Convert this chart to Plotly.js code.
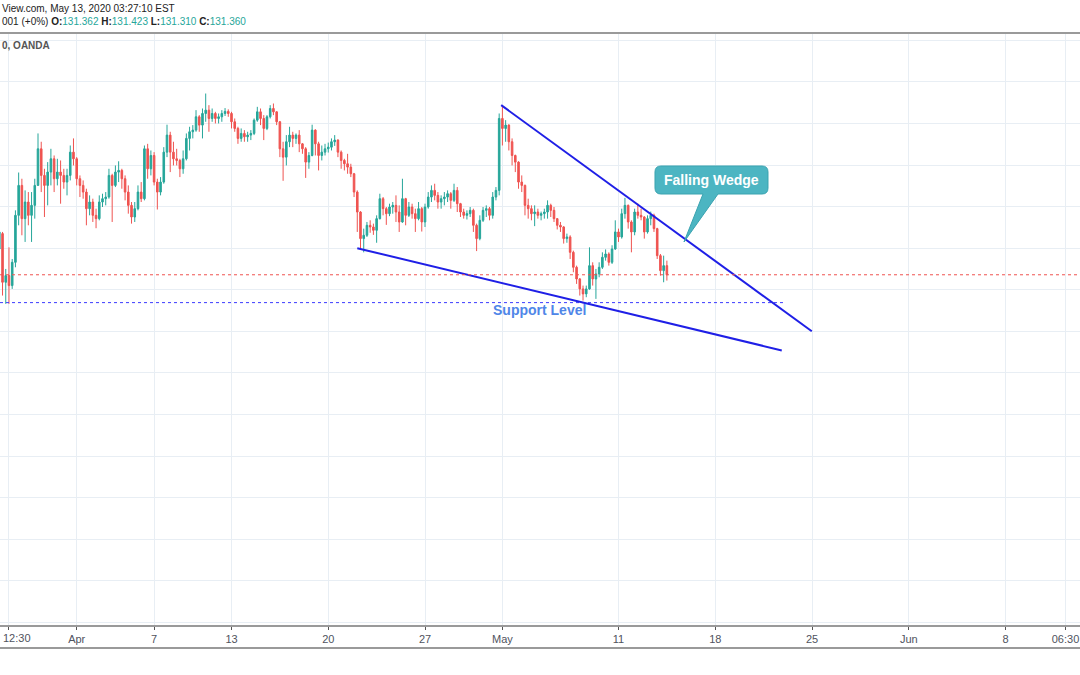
<!DOCTYPE html>
<html><head><meta charset="utf-8">
<script src="https://cdn.plot.ly/plotly-3.0.1.min.js"></script>
<style>html,body{margin:0;padding:0;background:#fff;}#chart{width:1080px;height:675px;}</style>
</head><body><div id="chart"></div>
<script>
// ---- data (GBP/JPY 4h candles) ----
const firstBar = '2020-03-26T00:00:00Z';
const openP = [
131.98,132.35,131.18,131.34,131.10,131.66,132.79,133.51,132.71,133.11,
132.79,133.03,133.51,134.39,133.75,133.51,133.83,134.15,133.67,133.83,
133.75,133.59,133.75,134.31,134.15,133.67,133.51,133.35,132.95,133.11,
132.79,132.71,133.11,133.19,133.23,133.75,133.51,133.83,133.87,133.67,
133.35,133.03,132.75,132.95,133.35,133.19,134.39,133.91,134.23,133.59,
133.35,133.59,134.31,134.72,134.31,134.15,134.11,133.91,134.15,134.64,
134.80,134.84,135.16,134.96,135.24,135.32,135.12,135.24,135.12,135.16,
135.24,135.29,135.24,135.04,134.88,134.64,134.76,134.68,134.72,134.76,
135.08,135.28,135.12,134.88,135.16,135.36,135.28,135.04,134.39,134.19,
134.56,134.72,134.64,134.72,134.51,134.39,134.07,134.23,134.84,134.51,
134.23,134.31,134.39,134.43,134.56,134.60,134.31,134.11,134.03,133.95,
133.79,133.35,132.87,132.23,132.31,132.55,132.51,132.43,132.71,133.19,
132.95,132.83,132.99,133.03,132.87,132.63,133.19,132.79,132.99,132.83,
132.71,132.95,132.63,132.99,133.23,133.39,133.27,133.11,133.19,133.23,
133.31,133.15,133.39,133.07,132.87,132.79,132.83,132.91,132.55,132.23,
132.67,132.91,132.95,132.79,133.23,133.39,135.12,134.88,134.96,134.56,
134.23,134.07,133.59,133.51,133.03,132.95,132.83,132.87,132.79,132.83,
132.87,133.03,132.91,132.71,132.55,132.51,132.23,132.27,131.90,131.54,
131.26,131.02,130.90,131.02,131.58,131.26,131.38,131.54,131.78,131.86,
131.66,131.98,132.39,132.27,132.83,133.03,132.63,132.39,132.87,132.79,
132.75,132.39,132.71,132.79,132.47,131.82,131.46,131.58];
const highP = [
132.51,132.39,131.50,132.02,131.74,132.91,133.82,133.67,133.39,133.35,
133.35,133.67,134.76,134.56,133.91,134.07,134.39,134.23,134.15,134.11,
133.91,133.91,134.47,134.64,134.19,133.75,133.63,133.43,133.27,133.19,
132.95,133.27,133.31,133.35,133.91,133.79,133.99,134.09,133.91,133.75,
133.51,133.11,133.11,133.51,133.59,134.47,134.51,134.35,134.31,133.67,
133.71,134.43,134.97,134.80,134.56,134.39,134.15,134.35,134.76,134.92,
134.96,135.32,135.20,135.36,135.72,135.44,135.36,135.28,135.24,135.32,
135.37,135.34,135.28,135.12,134.92,134.88,134.84,134.80,134.84,135.12,
135.40,135.36,135.20,135.20,135.44,135.48,135.29,135.06,134.56,134.72,
134.92,134.80,134.76,134.84,134.53,134.43,134.31,134.97,134.86,134.56,
134.47,134.51,134.54,134.64,134.72,134.62,134.35,134.15,134.27,134.03,
133.81,133.39,132.89,132.47,132.63,132.67,132.59,132.79,133.31,133.23,
132.99,133.07,133.11,133.27,133.03,133.67,133.21,133.11,133.07,132.95,
133.11,132.99,133.07,133.35,133.51,133.55,133.35,133.27,133.35,133.39,
133.35,133.55,133.47,133.09,132.95,132.91,132.99,132.95,132.59,132.79,
132.99,133.03,132.99,133.35,133.47,135.24,135.44,135.08,134.98,134.64,
134.25,134.09,133.75,133.53,133.19,133.03,133.03,132.95,132.88,132.95,
133.15,133.07,132.99,132.72,132.63,132.53,132.35,132.31,131.94,131.58,
131.28,131.10,131.10,132.02,131.66,131.50,131.66,131.90,131.97,131.90,
132.07,132.67,132.47,132.95,133.21,133.05,132.67,132.95,133.07,132.95,
132.77,132.79,132.88,132.83,132.49,131.86,131.82,131.70];
const lowP = [
131.90,130.86,130.66,130.66,131.02,131.54,132.55,132.31,132.15,132.55,
132.15,132.71,133.51,133.35,132.75,133.03,133.51,133.35,133.51,133.07,
133.43,133.27,133.63,133.99,133.51,133.23,133.19,132.55,132.79,132.63,
132.48,132.67,132.99,133.03,133.19,132.63,133.47,133.59,133.43,133.15,
132.83,132.59,132.63,132.91,133.11,133.15,133.67,133.75,133.51,132.93,
133.27,133.55,134.19,133.83,133.99,133.99,133.71,133.79,134.11,134.35,
134.64,134.80,134.80,134.64,135.04,134.80,135.04,135.00,135.00,135.04,
135.18,135.16,134.88,134.80,134.51,134.56,134.56,134.56,134.60,134.72,
135.04,134.96,134.60,134.84,135.12,135.20,134.96,134.19,133.62,133.99,
134.43,134.43,134.51,134.31,134.27,133.69,133.91,134.21,134.23,133.87,
134.11,134.23,134.30,134.35,134.46,134.19,133.91,133.87,133.79,133.71,
133.23,132.39,131.98,131.90,132.27,132.37,132.32,132.13,132.69,132.79,
132.56,132.77,132.83,132.63,132.39,132.61,132.55,132.75,132.71,132.39,
132.67,132.40,132.51,132.95,133.11,133.15,132.95,132.95,133.03,133.11,
132.95,133.11,132.87,132.75,132.71,132.69,132.75,132.39,131.93,132.19,
132.63,132.75,132.67,132.71,133.15,133.27,134.47,134.56,134.35,133.99,
133.83,133.43,133.35,132.79,132.71,132.67,132.53,132.71,132.67,132.71,
132.71,132.75,132.63,132.45,132.39,132.11,132.13,131.74,131.42,131.14,
130.86,130.74,130.82,131.00,131.10,130.78,131.30,131.50,131.70,131.58,
131.62,131.96,132.15,132.23,132.71,132.47,131.90,132.31,132.71,132.67,
132.23,132.35,132.55,132.39,131.74,131.34,131.18,131.22];
const closeP = [
132.39,131.18,131.34,131.10,131.66,132.79,133.51,132.71,133.11,132.79,
133.03,133.51,134.39,133.75,133.51,133.83,134.15,133.67,133.83,133.75,
133.59,133.75,134.31,134.15,133.67,133.51,133.35,132.95,133.11,132.79,
132.71,133.11,133.19,133.23,133.75,133.51,133.83,133.87,133.67,133.35,
133.03,132.75,132.95,133.35,133.19,134.39,133.91,134.23,133.59,133.35,
133.59,134.31,134.72,134.31,134.15,134.11,133.91,134.15,134.64,134.80,
134.84,135.16,134.96,135.24,135.32,135.12,135.24,135.12,135.16,135.24,
135.29,135.24,135.04,134.88,134.64,134.76,134.68,134.72,134.76,135.08,
135.28,135.12,134.88,135.16,135.36,135.28,135.04,134.39,134.19,134.56,
134.72,134.64,134.72,134.51,134.39,134.07,134.23,134.84,134.51,134.23,
134.31,134.39,134.43,134.56,134.60,134.31,134.11,134.03,133.95,133.79,
133.35,132.87,132.23,132.31,132.55,132.51,132.43,132.71,133.19,132.95,
132.83,132.99,133.03,132.87,132.63,133.19,132.79,132.99,132.83,132.71,
132.95,132.63,132.99,133.23,133.39,133.27,133.11,133.19,133.23,133.31,
133.15,133.39,133.07,132.87,132.79,132.83,132.91,132.55,132.23,132.67,
132.91,132.95,132.79,133.23,133.39,135.12,134.88,134.96,134.56,134.23,
134.07,133.59,133.51,133.03,132.95,132.83,132.87,132.79,132.83,132.87,
133.03,132.91,132.71,132.55,132.51,132.23,132.27,131.90,131.54,131.26,
131.02,130.90,131.02,131.58,131.26,131.38,131.54,131.78,131.86,131.66,
131.98,132.39,132.27,132.83,133.03,132.63,132.39,132.87,132.79,132.75,
132.39,132.71,132.79,132.47,131.82,131.46,131.58,131.36];

const tickDates  = ['2020-04-01','2020-04-07','2020-04-13','2020-04-20','2020-04-27','2020-05-01','2020-05-11','2020-05-18','2020-05-25','2020-06-01','2020-06-08','2020-06-11 02:24'];
const tickLabels = ['Apr','7','13','20','27','May','11','18','25','Jun','8','06:30'];
const edgeTickDate = ['2020-03-26 11:45'];
const edgeTickLabel = ['12:30'];

const upperWedgeX = ['2020-04-30 22:30','2020-05-22 23:45'];
const upperWedgeY = [135.44, 130.00];
const lowerWedgeX = ['2020-04-21 12:00','2020-05-21 10:30'];
const lowerWedgeY = [132.00, 129.54];
const supportX = ['2020-03-26 00:52','2020-05-21 12:00'];
const supportY = [130.69, 130.69];
const lastPrice = [131.36];

// ---- bar times: consecutive 4h bars, weekends skipped ----
function barTimes(n){
  const out=[]; let t=Date.parse(firstBar);
  while(out.length<n){
    const d=new Date(t), wd=d.getUTCDay();
    if(wd!==0 && wd!==6) out.push(d.toISOString().slice(0,16).replace('T',' '));
    t+=4*3600*1000;
  }
  return out;
}
const times = barTimes(closeP.length);

// ---- layout geometry ----
const W=1080, plotTop=33, plotBot=625, plotH=plotBot-plotTop;
const px = v => v/W;
const py = v => (plotBot - v)/plotH;

function bubblePath(x1,y1,x2,y2,r,baseA,baseB,tipX,tipY){
  const rx=r/W, ry=r/plotH;
  const X1=px(x1), X2=px(x2), YT=py(y1), YB=py(y2);
  const f=n=>n.toFixed(5);
  return 'M'+f(X1+rx)+','+f(YT)+
    ' L'+f(X2-rx)+','+f(YT)+
    ' Q'+f(X2)+','+f(YT)+' '+f(X2)+','+f(YT-ry)+
    ' L'+f(X2)+','+f(YB+ry)+
    ' Q'+f(X2)+','+f(YB)+' '+f(X2-rx)+','+f(YB)+
    ' L'+f(px(baseA))+','+f(YB)+
    ' L'+f(px(tipX))+','+f(py(tipY))+
    ' L'+f(px(baseB))+','+f(YB)+
    ' L'+f(X1+rx)+','+f(YB)+
    ' Q'+f(X1)+','+f(YB)+' '+f(X1)+','+f(YB+ry)+
    ' L'+f(X1)+','+f(YT-ry)+
    ' Q'+f(X1)+','+f(YT)+' '+f(X1+rx)+','+f(YT)+' Z';
}

const traces = [
  {type:'candlestick', x:times, open:openP, high:highP, low:lowP, close:closeP,
   increasing:{line:{color:'#26a69a',width:1}, fillcolor:'#26a69a'},
   decreasing:{line:{color:'#ef5350',width:1}, fillcolor:'#ef5350'},
   whiskerwidth:0, hoverinfo:'skip', showlegend:false},
  {type:'scatter', mode:'lines', x:supportX, y:supportY,
   line:{color:'#3b3bff', width:1, dash:'dot'}, hoverinfo:'skip', showlegend:false},
  {type:'scatter', mode:'lines', x:upperWedgeX, y:upperWedgeY,
   line:{color:'#1f1fe6', width:2}, hoverinfo:'skip', showlegend:false},
  {type:'scatter', mode:'lines', x:lowerWedgeX, y:lowerWedgeY,
   line:{color:'#1f1fe6', width:2}, hoverinfo:'skip', showlegend:false}
];

const grid='#e8eef4', frame='#9a9a9a';
const layout = {
  width:1080, height:675,
  margin:{l:0, r:0, t:plotTop, b:675-plotBot},
  paper_bgcolor:'#ffffff', plot_bgcolor:'#ffffff',
  font:{family:'Liberation Sans, Arial, sans-serif', size:11, color:'#50535e'},
  showlegend:false,
  xaxis:{
    type:'date', range:['2020-03-26 00:52','2020-06-11 20:24'],
    rangebreaks:[{bounds:['sat','mon']}],
    rangeslider:{visible:false},
    tickmode:'array', tickvals:tickDates.concat(edgeTickDate), ticktext:tickLabels.concat(['']),
    showgrid:true, gridcolor:grid, gridwidth:1,
    showline:true, linecolor:frame, linewidth:2,
    ticks:'outside', ticklen:3, tickcolor:'#555', tickwidth:1,
    tickfont:{size:11, color:'#50535e'}, zeroline:false, fixedrange:true
  },
  yaxis:{
    range:[122.935,137.176], tickmode:'linear', tick0:0, dtick:1,
    showticklabels:false, ticks:'', showgrid:true, gridcolor:grid, gridwidth:1,
    zeroline:false, showline:false, fixedrange:true
  },
  shapes:[
    {type:'line', xref:'paper', yref:'paper', x0:0, x1:1, y0:1, y1:1, line:{color:frame, width:2}},
    {type:'line', xref:'paper', yref:'paper', x0:0, x1:1, y0:py(648), y1:py(648), line:{color:frame, width:2}},
    {type:'line', xref:'paper', yref:'y', x0:0, x1:1, y0:lastPrice[0], y1:lastPrice[0],
     line:{color:'#ef5350', width:1, dash:'dot'}},
    {type:'path', xref:'paper', yref:'paper', layer:'above',
     path:bubblePath(655,166,768,194,6,718,703,684,242),
     fillcolor:'#4cb5c2', line:{color:'#3aa3b0', width:1}}
  ],
  annotations:[
    {xref:'paper', yref:'paper', x:0, y:py(9), xanchor:'left', yanchor:'middle', showarrow:false,
     text:'View.com, May 13, 2020 03:27:10 EST', font:{size:10, color:'#222'}},
    {xref:'paper', yref:'paper', x:0, y:py(22), xanchor:'left', yanchor:'middle', showarrow:false,
     text:'001 (+0%) <b>O:</b><span style="color:#26a69a">131.362</span> <b>H:</b><span style="color:#26a69a">131.423</span> <b>L:</b><span style="color:#26a69a">131.310</span> <b>C:</b><span style="color:#26a69a">131.360</span>',
     font:{size:10, color:'#222'}},
    {xref:'paper', yref:'paper', x:0, y:py(45), xanchor:'left', yanchor:'middle', showarrow:false,
     text:'<b>0, OANDA</b>', font:{size:10, color:'#555'}},
    {xref:'x', yref:'paper', x:edgeTickDate[0], y:py(638), xanchor:'left', yanchor:'middle', showarrow:false, xshift:-8,
     text:edgeTickLabel[0], font:{size:11, color:'#50535e'}},
    {xref:'paper', yref:'paper', x:px(539.5), y:py(310), xanchor:'center', yanchor:'middle', showarrow:false,
     text:'<b>Support Level</b>', font:{size:14, color:'#4f86e8'}},
    {xref:'paper', yref:'paper', x:px(711.5), y:py(180), xanchor:'center', yanchor:'middle', showarrow:false,
     text:'<b>Falling Wedge</b>', font:{size:14, color:'#ffffff'}}
  ]
};

Plotly.newPlot('chart', traces, layout, {displayModeBar:false, staticPlot:true});
</script>
</body></html>
